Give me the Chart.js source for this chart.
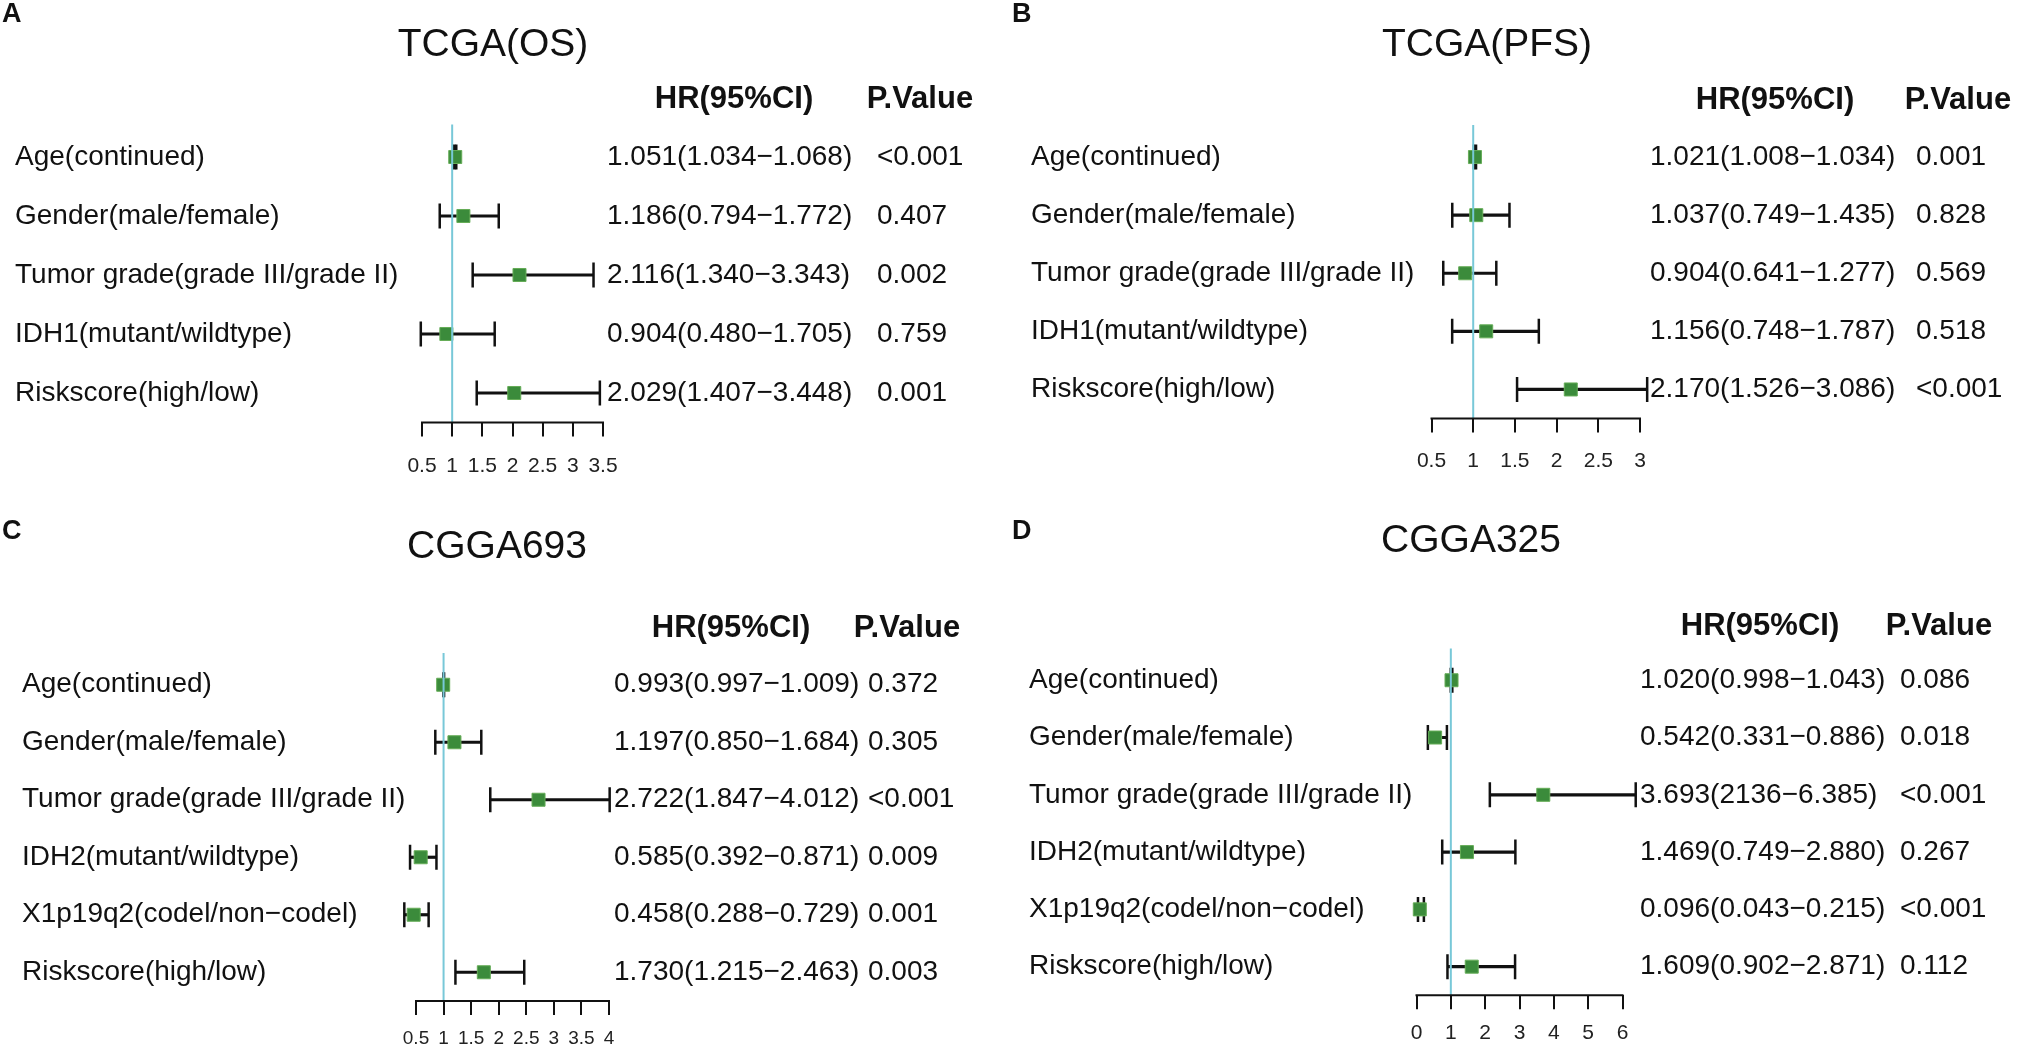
<!DOCTYPE html>
<html lang="en">
<head>
<meta charset="UTF-8">
<title>Multivariate Cox forest plots</title>
<script src="https://cdn.jsdelivr.net/npm/chart.js"></script>
<style>
  body { margin: 0; background: #fff; width: 2021px; height: 1055px; position: relative; overflow: hidden; }
  canvas { position: absolute; }
</style>
</head>
<body>
<canvas id="plotA" width="1010" height="520" style="left:0;top:0"></canvas>
<canvas id="plotB" width="1011" height="520" style="left:1010px;top:0"></canvas>
<canvas id="plotC" width="1010" height="535" style="left:0;top:520px"></canvas>
<canvas id="plotD" width="1011" height="535" style="left:1010px;top:520px"></canvas>

<script>
const FONT = '"Liberation Sans", Arial, Helvetica, sans-serif';

// A - TCGA(OS)
const labelsA = ['Age(continued)', 'Gender(male/female)', 'Tumor grade(grade III/grade II)', 'IDH1(mutant/wildtype)', 'Riskscore(high/low)'];
const hrA   = [1.051, 1.186, 2.116, 0.904, 2.029];
const lowA  = [1.034, 0.794, 1.340, 0.480, 1.407];
const highA = [1.068, 1.772, 3.343, 1.705, 3.448];
const hrTextA = ['1.051(1.034\u22121.068)', '1.186(0.794\u22121.772)', '2.116(1.340\u22123.343)', '0.904(0.480\u22121.705)', '2.029(1.407\u22123.448)'];
const pA = ['<0.001', '0.407', '0.002', '0.759', '0.001'];
const ticksA = [0.5, 1, 1.5, 2, 2.5, 3, 3.5];

// B - TCGA(PFS)
const labelsB = ['Age(continued)', 'Gender(male/female)', 'Tumor grade(grade III/grade II)', 'IDH1(mutant/wildtype)', 'Riskscore(high/low)'];
const hrB   = [1.021, 1.037, 0.904, 1.156, 2.170];
const lowB  = [1.008, 0.749, 0.641, 0.748, 1.526];
const highB = [1.034, 1.435, 1.277, 1.787, 3.086];
const hrTextB = ['1.021(1.008\u22121.034)', '1.037(0.749\u22121.435)', '0.904(0.641\u22121.277)', '1.156(0.748\u22121.787)', '2.170(1.526\u22123.086)'];
const pB = ['0.001', '0.828', '0.569', '0.518', '<0.001'];
const ticksB = [0.5, 1, 1.5, 2, 2.5, 3];

// C - CGGA693
const labelsC = ['Age(continued)', 'Gender(male/female)', 'Tumor grade(grade III/grade II)', 'IDH2(mutant/wildtype)', 'X1p19q2(codel/non\u2212codel)', 'Riskscore(high/low)'];
const hrC   = [0.993, 1.197, 2.722, 0.585, 0.458, 1.730];
const lowC  = [0.997, 0.850, 1.847, 0.392, 0.288, 1.215];
const highC = [1.009, 1.684, 4.012, 0.871, 0.729, 2.463];
const hrTextC = ['0.993(0.997\u22121.009)', '1.197(0.850\u22121.684)', '2.722(1.847\u22124.012)', '0.585(0.392\u22120.871)', '0.458(0.288\u22120.729)', '1.730(1.215\u22122.463)'];
const pC = ['0.372', '0.305', '<0.001', '0.009', '0.001', '0.003'];
const ticksC = [0.5, 1, 1.5, 2, 2.5, 3, 3.5, 4];

// D - CGGA325
const labelsD = ['Age(continued)', 'Gender(male/female)', 'Tumor grade(grade III/grade II)', 'IDH2(mutant/wildtype)', 'X1p19q2(codel/non\u2212codel)', 'Riskscore(high/low)'];
const hrD   = [1.020, 0.542, 3.693, 1.469, 0.096, 1.609];
const lowD  = [0.998, 0.331, 2.136, 0.749, 0.043, 0.902];
const highD = [1.043, 0.886, 6.385, 2.880, 0.215, 2.871];
const hrTextD = ['1.020(0.998\u22121.043)', '0.542(0.331\u22120.886)', '3.693(2136\u22126.385)', '1.469(0.749\u22122.880)', '0.096(0.043\u22120.215)', '1.609(0.902\u22122.871)'];
const pD = ['0.086', '0.018', '<0.001', '0.267', '<0.001', '0.112'];
const ticksD = [0, 1, 2, 3, 4, 5, 6];

// one forest plot per canvas; lay holds pixel placement only
function forest(canvasId, d, lay) {
  const canvas = document.getElementById(canvasId);
  const W = canvas.width, H = canvas.height;
  const t0 = d.ticks[0], t1 = d.ticks[d.ticks.length - 1];
  const ppu = (lay.p1 - lay.p0) / (t1 - t0);
  const xmin = t0 - (lay.p0 - lay.left) / ppu;
  const xmax = t1 + (lay.right - lay.p1) / ppu;
  const pts = arr => arr.map((v, i) => ({ x: v, y: d.labels[i] }));

  const decor = {
    id: 'forestDecor',
    afterDatasetsDraw(chart) {
      const { ctx, chartArea, scales: { x } } = chart;
      const px = x.getPixelForValue(1);
      ctx.save();
      ctx.strokeStyle = '#78c8d8';
      ctx.lineWidth = 2;
      ctx.beginPath();
      ctx.moveTo(px, chartArea.top - 3);
      ctx.lineTo(px, chartArea.bottom);
      ctx.stroke();
      ctx.restore();
    },
    afterDraw(chart) {
      const { ctx, scales: { x, y } } = chart;
      ctx.save();
      // axis line only between first and last tick
      ctx.strokeStyle = '#111';
      ctx.lineWidth = 2;
      ctx.beginPath();
      ctx.moveTo(x.getPixelForValue(t0) - 1, x.top);
      ctx.lineTo(x.getPixelForValue(t1) + 1, x.top);
      ctx.stroke();

      ctx.fillStyle = '#111';
      ctx.textBaseline = 'middle';
      ctx.textAlign = 'left';
      ctx.font = 'bold 27px ' + FONT;
      ctx.fillText(d.letter, 2, lay.letterY);

      ctx.textAlign = 'center';
      ctx.font = '39px ' + FONT;
      ctx.fillText(d.title, lay.titleX, lay.titleY);
      ctx.font = 'bold 31px ' + FONT;
      ctx.fillText('HR(95%CI)', lay.headHR, lay.headY);
      ctx.fillText('P.Value', lay.headP, lay.headY);

      // row labels and the two text columns, placed on the category rows
      ctx.textAlign = 'left';
      ctx.font = '28px ' + FONT;
      d.labels.forEach((lab, i) => {
        const yy = y.getPixelForValue(i);
        ctx.fillText(lab, lay.labelX, yy);
        ctx.fillText(d.hrText[i], lay.hrX, yy);
        ctx.fillText(d.p[i], lay.pX, yy);
      });
      ctx.restore();
    }
  };

  return new Chart(canvas, {
    type: 'bar',
    data: {
      labels: d.labels,
      datasets: [
        {
          type: 'scatter', data: pts(d.hr), order: 0,
          pointStyle: 'rect', pointRadius: 9.2,
          pointBackgroundColor: '#3b8b3b', pointBorderColor: '#66ad58', pointBorderWidth: 1
        },
        {
          type: 'scatter', data: pts(d.low).concat(pts(d.high)), order: 1,
          pointStyle: 'line', pointRotation: 90, pointRadius: 12.5,
          pointBorderColor: '#111', pointBorderWidth: 2.5
        },
        {
          type: 'bar', data: d.low.map((lo, i) => [lo, d.high[i]]), order: 2,
          backgroundColor: '#111', barThickness: 2.5, borderWidth: 0
        }
      ]
    },
    options: {
      indexAxis: 'y',
      responsive: false,
      animation: false,
      devicePixelRatio: 1,
      layout: { padding: { left: lay.labelX, right: W - lay.right, top: lay.top, bottom: 0 } },
      plugins: { legend: { display: false }, tooltip: { enabled: false }, title: { display: false } },
      scales: {
        y: {
          type: 'category', offset: true,
          grid: { display: false }, border: { display: false },
          ticks: { display: false },
          afterFit: s => { s.width = lay.left - lay.labelX; }
        },
        x: {
          type: 'linear', min: xmin, max: xmax, beginAtZero: false,
          grid: { drawOnChartArea: false, drawTicks: true, tickLength: 14, color: '#111', lineWidth: 2 },
          border: { display: false },
          afterBuildTicks: s => { s.ticks = d.ticks.map(v => ({ value: v })); },
          ticks: {
            autoSkip: false, maxRotation: 0, minRotation: 0, padding: lay.tickPad,
            color: '#222', font: { family: FONT, size: lay.tickFont },
            callback: v => String(v)
          },
          afterFit: s => { s.height = H - lay.bottom; }
        }
      }
    },
    plugins: [decor]
  });
}

forest('plotA',
  { letter: 'A', title: 'TCGA(OS)', labels: labelsA, hr: hrA, low: lowA, high: highA, hrText: hrTextA, p: pA, ticks: ticksA },
  { left: 400, right: 610, top: 127.5, bottom: 422.5, p0: 422, p1: 603, labelX: 15, hrX: 607, pX: 877,
    headHR: 734, headP: 920, headY: 99, titleX: 493, titleY: 45, letterY: 15, tickPad: 17, tickFont: 21 });

forest('plotB',
  { letter: 'B', title: 'TCGA(PFS)', labels: labelsB, hr: hrB, low: lowB, high: highB, hrText: hrTextB, p: pB, ticks: ticksB },
  { left: 400, right: 639, top: 128, bottom: 418.5, p0: 421.5, p1: 630, labelX: 21, hrX: 640, pX: 906,
    headHR: 765, headP: 948, headY: 100, titleX: 477, titleY: 45, letterY: 15, tickPad: 16, tickFont: 21 });

forest('plotC',
  { letter: 'C', title: 'CGGA693', labels: labelsC, hr: hrC, low: lowC, high: highC, hrText: hrTextC, p: pC, ticks: ticksC },
  { left: 395, right: 612, top: 136, bottom: 481, p0: 416, p1: 609, labelX: 22, hrX: 614, pX: 868,
    headHR: 731, headP: 907, headY: 108, titleX: 497, titleY: 27, letterY: 12, tickPad: 12, tickFont: 19 });

forest('plotD',
  { letter: 'D', title: 'CGGA325', labels: labelsD, hr: hrD, low: lowD, high: highD, hrText: hrTextD, p: pD, ticks: ticksD },
  { left: 395, right: 628, top: 131.6, bottom: 475.3, p0: 406.5, p1: 612.5, labelX: 19, hrX: 630, pX: 890,
    headHR: 750, headP: 929, headY: 106, titleX: 461, titleY: 21, letterY: 12, tickPad: 11, tickFont: 21 });
</script>
</body>
</html>
